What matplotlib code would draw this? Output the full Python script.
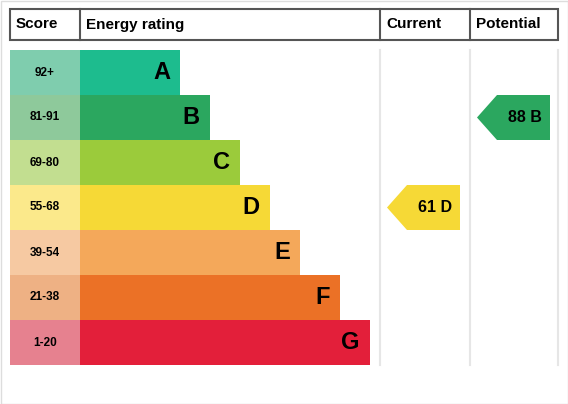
import matplotlib
matplotlib.use("Agg")
import matplotlib.pyplot as plt
from matplotlib.patches import Rectangle, Polygon

bands = ["A", "B", "C", "D", "E", "F", "G"]
scores = ["92+", "81-91", "69-80", "55-68", "39-54", "21-38", "1-20"]
band_colors = ["#1dbc8e", "#2ba75f", "#9bcb3b", "#f6d936", "#f4a85a", "#eb7126", "#e31f3a"]
score_colors = ["#7fcdae", "#8ec99b", "#c2de90", "#fbe98b", "#f6c9a2", "#eeb184", "#e6818f"]
bar_ends = [180, 210, 240, 270, 300, 340, 370]
current_value, current_band = 61, "D"
potential_value, potential_band = 88, "B"
headers = ["Score", "Energy rating", "Current", "Potential"]

fig = plt.figure(figsize=(5.68, 4.04), dpi=100)
ax = fig.add_axes([0, 0, 1, 1])
ax.set_xlim(0, 568); ax.set_ylim(404, 0); ax.axis("off")

# outer border
ax.add_patch(Rectangle((0.5, 0.5), 567, 403, fill=False, ec="#dddddd", lw=1))

cols = [10, 80, 380, 470, 558]
# header
ax.add_patch(Rectangle((10, 9), 548, 31, fill=False, ec="#555555", lw=1.5))
for x in cols[1:-1]:
    ax.plot([x, x], [9, 40], color="#555555", lw=1.5)
for i, h in enumerate(headers):
    ax.text(cols[i] + 6, 24.5, h, fontsize=11, fontweight="bold", va="center", ha="left",
            family="Liberation Sans")

top, rh = 50, 45
# body separators
for x in cols[2:]:
    ax.plot([x, x], [top, top + rh * len(bands)], color="#e6e6e6", lw=1.5)

for i, b in enumerate(bands):
    y = top + i * rh
    ax.add_patch(Rectangle((10, y), 70, rh, color=score_colors[i], lw=0))
    ax.add_patch(Rectangle((80, y), bar_ends[i] - 80, rh, color=band_colors[i], lw=0))
    ax.text(45, y + rh / 2, scores[i], fontsize=8.5, fontweight="bold", ha="center", va="center",
            family="Liberation Sans")
    ax.text(bar_ends[i] - 10, y + rh / 2, b, fontsize=17, fontweight="bold", ha="right", va="center",
            family="Liberation Sans")

def arrow(x0, x1, band, value):
    i = bands.index(band)
    y = top + i * rh
    pts = [(x0, y + rh / 2), (x0 + 20, y), (x1, y), (x1, y + rh), (x0 + 20, y + rh)]
    ax.add_patch(Polygon(pts, closed=True, color=band_colors[i], lw=0))
    ax.text(x1 - 8, y + rh / 2, f"{value} {band}", fontsize=11.5, fontweight="bold",
            ha="right", va="center", family="Liberation Sans")

arrow(387, 460, current_band, current_value)
arrow(477, 550, potential_band, potential_value)

fig.savefig("out.png", dpi=100)
